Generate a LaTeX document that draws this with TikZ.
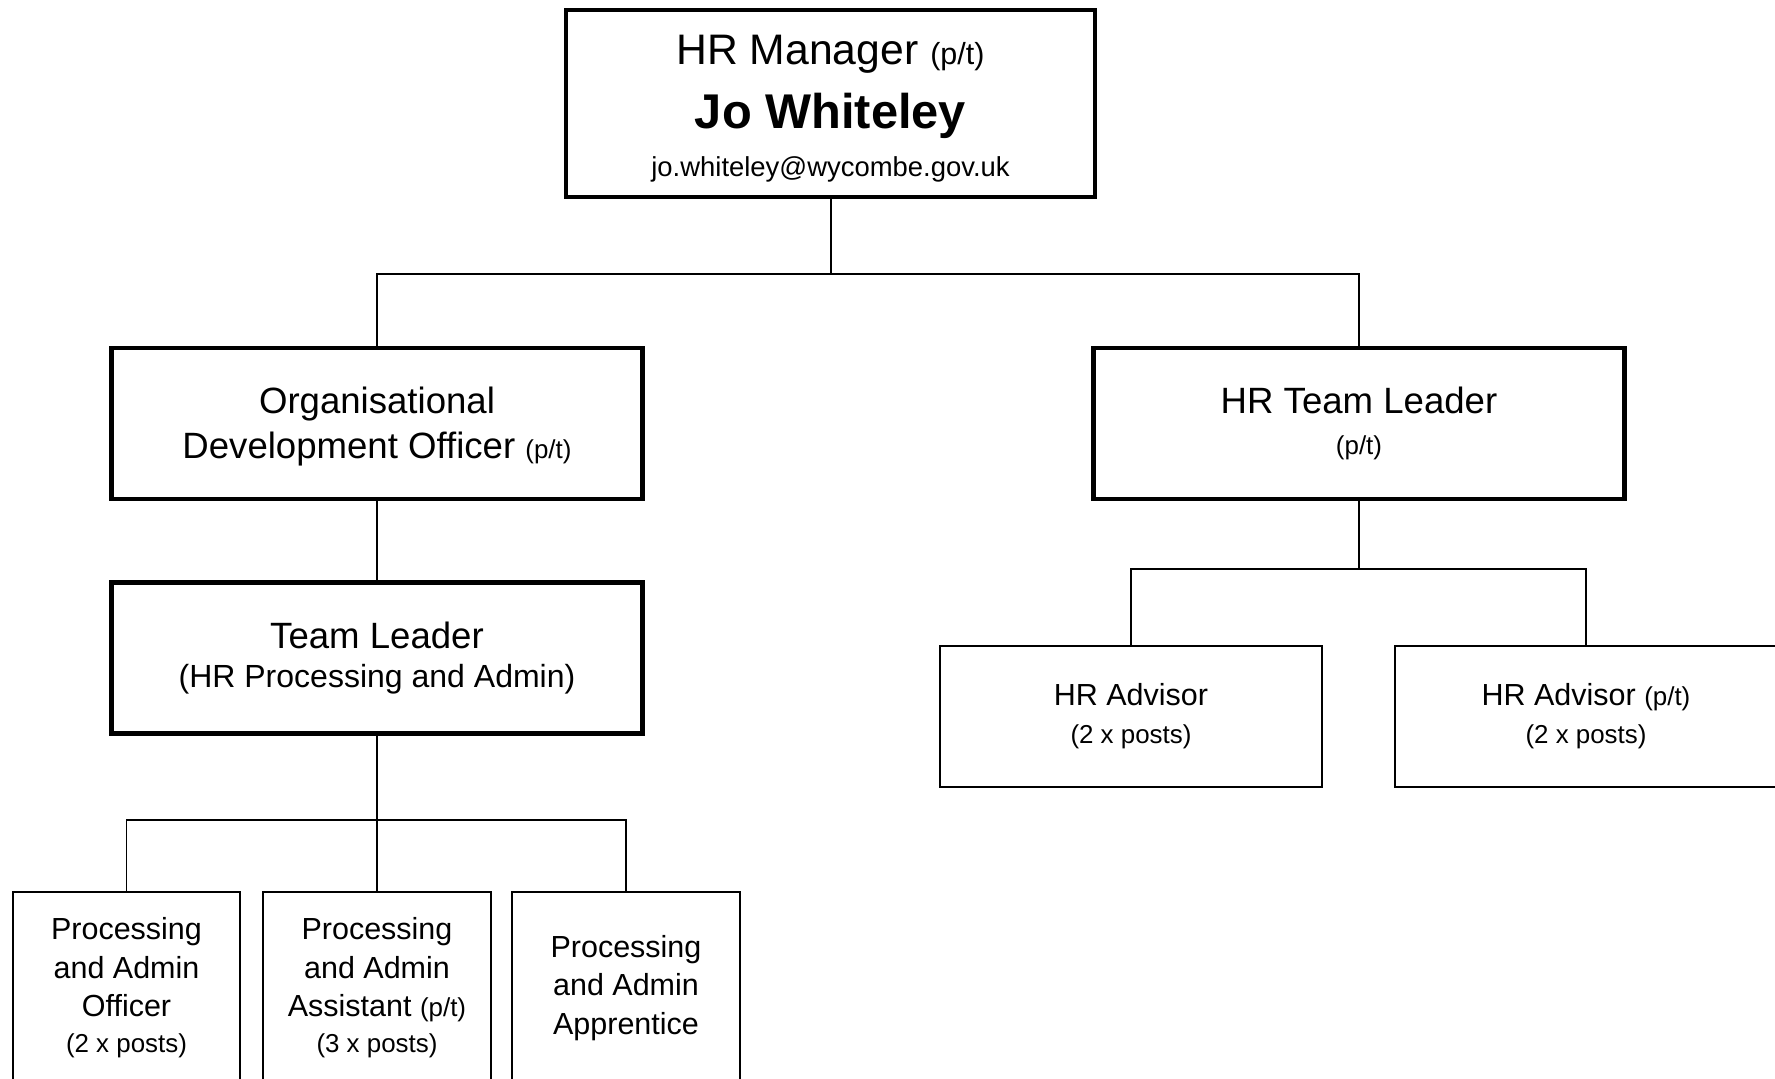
\documentclass[tikz,border=0pt]{standalone}
\usepackage{fontspec}
\setmainfont{Liberation Sans}
\newcommand{\txtsize}[1]{\fontsize{#1}{#1}\selectfont}

\begin{document}
\begin{tikzpicture}[
			x=0.328pt, y=-0.328pt,
			post/.style = {draw, rectangle, align=center, inner sep=0pt, line width=0.65pt},
			head/.style = {post, line width=1.5pt, minimum width=174pt, minimum height=49.6pt},
			advisor/.style = {post, minimum width=125pt, minimum height=46.2pt, font=\fontsize{10}{12.5}\selectfont},
			team/.style = {post, minimum width=74.5pt, minimum height=63pt, font=\fontsize{10}{12.6}\selectfont},
			link/.style = {draw, line width=0.65pt},
			]
			\useasboundingbox (0,0) rectangle (1775,1078);
			\clip (0,0) rectangle (1775,1078);
			\node[head, minimum width=173.5pt, minimum height=61.3pt, font=\fontsize{14}{16}\selectfont] (mgr) at (830.5,103.5)
				{\rule{0pt}{13pt}HR Manager {\txtsize{10}(p/t)}\\[5pt]
				{\txtsize{16}\bfseries Jo Whiteley}\\
				{\txtsize{9}jo.whiteley@wycombe.gov.uk}};
			\node[head, font=\fontsize{12}{14.75}\selectfont] (odo) at (377,423.5)
				{\rule{0pt}{10.4pt}Organisational\\Development Officer {\txtsize{8.5}(p/t)}};
			\node[head, font=\fontsize{12}{13.4}\selectfont] (hrtl) at (1359,423.5)
				{HR Team Leader\\{\txtsize{8.5}(p/t)}};
			\node[head, font=\fontsize{12}{12.5}\selectfont] (tl) at (377,658)
				{Team Leader\\{\txtsize{10.5}(HR Processing and Admin)}};
			\node[advisor] (adv) at (1131,716.5) {HR Advisor\\{\txtsize{8.5}(2 x posts)}};
			\node[advisor] (advpt) at (1586,716.5) {HR Advisor {\txtsize{8.5}(p/t)}\\{\txtsize{8.5}(2 x posts)}};
			\node[team] (pao) at (126.5,988) {Processing\\and Admin\\Officer\\[-0.8pt]{\txtsize{8.5}(2 x posts)}};
			\node[team] (paa) at (377,988) {Processing\\and Admin\\Assistant {\txtsize{8.5}(p/t)}\\[-0.8pt]{\txtsize{8.5}(3 x posts)}};
			\node[team] (pap) at (626,988) {Processing\\and Admin\\Apprentice};
			% reporting lines
			\draw[link] (mgr.south) -- ++(0,75) coordinate (split);
			\draw[link] (split) -| (odo.north);
			\draw[link] (split) -| (hrtl.north);
			\draw[link] (odo.south) -- (tl.north);
			\draw[link] (tl.south) -- ++(0,84) coordinate (procsplit);
			\draw[link] (procsplit) -| (pao.north);
			\draw[link] (procsplit) -- (paa.north);
			\draw[link] (procsplit) -| (pap.north);
			\draw[link] (hrtl.south) -- ++(0,68) coordinate (advsplit);
			\draw[link] (advsplit) -| (adv.north);
			\draw[link] (advsplit) -| (advpt.north);
		\end{tikzpicture}
\end{document}
